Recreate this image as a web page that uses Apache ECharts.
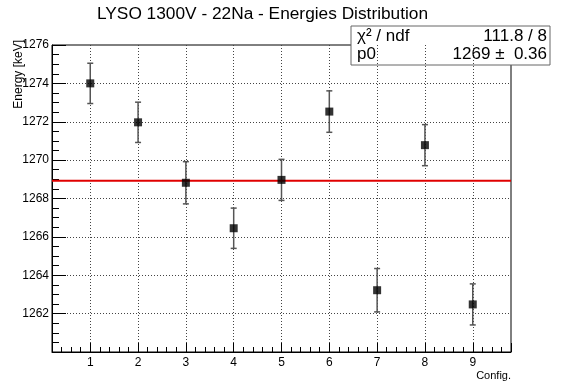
<!DOCTYPE html>
<html><head><meta charset="utf-8">
<script src="https://cdn.jsdelivr.net/npm/echarts@6/dist/echarts.min.js"></script>
<style>html,body{margin:0;padding:0;background:#fff}#c{width:561px;height:383px}</style>
</head><body><div id="c"></div>
<script>
// ---- data ----
const configs = [1, 2, 3, 4, 5, 6, 7, 8, 9];
const energies = [1274.0, 1271.97, 1268.82, 1266.45, 1268.97, 1272.53, 1263.22, 1270.78, 1262.48];
const errors = [1.05, 1.05, 1.1, 1.05, 1.07, 1.08, 1.13, 1.07, 1.07];
const fitP0 = 1268.92;
const xRange = [0.2, 9.8];
const yRange = [1260, 1276];
const statsLabels = ['\u03c7\u00b2 / ndf', 'p0'];
const statsValues = ['111.8 / 8', '1269 \u00b1  0.36'];
const titleText = 'LYSO 1300V - 22Na - Energies Distribution';

const points = configs.map((c, i) => [c, energies[i], errors[i]]);
const fitLine = xRange.map(x => [x, fitP0]);

const FONT = '"Liberation Sans", Arial, sans-serif';
const chart = echarts.init(document.getElementById('c'), null, {renderer: 'canvas'});
const GT = 45, GB = 31, GL = 52, GR = 50;

chart.setOption({
  animation: false,
  backgroundColor: '#fff',
  title: {
    text: titleText, left: 92, top: 1,
    textStyle: {fontFamily: FONT, fontSize: 17.3, fontWeight: 'normal', color: '#000'}
  },
  grid: {left: GL, right: GR, top: GT, bottom: GB, containLabel: false, outerBoundsMode: 'none',
    show: true, borderColor: '#000', borderWidth: 1, backgroundColor: 'transparent'},
  xAxis: [{
    type: 'value', min: xRange[0], max: xRange[1], minInterval: 1, maxInterval: 1,
    name: 'Config.', nameLocation: 'end', nameGap: 0, nameMoveOverlap: false,
    nameTextStyle: {fontFamily: FONT, fontSize: 11, color: '#000', align: 'right', verticalAlign: 'top', padding: [18, 0, 0, 0]},
    axisLine: {show: true, lineStyle: {color: '#000', width: 1}},
    axisTick: {show: true, inside: true, length: 9, lineStyle: {color: '#000'}},
    axisLabel: {fontFamily: FONT, fontSize: 12, color: '#000', margin: 5,
      formatter: v => (Math.abs(v - Math.round(v)) < 1e-6 && v >= 1 && v <= 9) ? String(Math.round(v)) : ''},
    splitLine: {show: true, showMinLine: false, showMaxLine: false, lineStyle: {type: [1, 2], color: '#444', width: 1}}
  }, {
    type: 'value', min: xRange[0], max: xRange[1], interval: 0.2, position: 'bottom', offset: 0,
    axisLine: {show: false},
    axisTick: {show: true, inside: true, length: 5, lineStyle: {color: '#000'}},
    axisLabel: {show: false}, splitLine: {show: false}
  }],
  yAxis: {
    type: 'value', min: yRange[0], max: yRange[1], interval: 2,
    name: 'Energy [keV]', nameLocation: 'end', nameRotate: 90, nameGap: 5, nameMoveOverlap: false,
    nameTextStyle: {fontFamily: FONT, fontSize: 12, color: '#000', align: 'right', verticalAlign: 'bottom', padding: [0, 0, 27, 0]},
    axisLine: {show: true, lineStyle: {color: '#000', width: 1}},
    axisTick: {show: true, inside: true, length: 14, lineStyle: {color: '#000'}},
    minorTick: {show: true, splitNumber: 4, length: 7, lineStyle: {color: '#000'}},
    axisLabel: {fontFamily: FONT, fontSize: 12, color: '#000', margin: 3, showMinLabel: false,
      formatter: v => String(v)},
    splitLine: {show: true, showMinLine: false, showMaxLine: false, lineStyle: {type: [1, 2], color: '#444', width: 1}}
  },
  series: [{
    type: 'custom', xAxisIndex: 0, z: 3,
    data: points,
    renderItem: (params, api) => {
      const x = api.value(0), y = api.value(1), e = api.value(2);
      const t = api.coord([x, y + e]), b = api.coord([x, y - e]);
      const st = {stroke: '#555', lineWidth: 1.5};
      return {type: 'group', children: [
        {type: 'line', shape: {x1: t[0], y1: t[1], x2: b[0], y2: b[1]}, style: st},
        {type: 'line', shape: {x1: t[0] - 3, y1: t[1], x2: t[0] + 3, y2: t[1]}, style: st},
        {type: 'line', shape: {x1: b[0] - 3, y1: b[1], x2: b[0] + 3, y2: b[1]}, style: st}
      ]};
    }
  }, {
    type: 'line', xAxisIndex: 0, z: 4, data: fitLine, showSymbol: false, silent: true,
    lineStyle: {color: '#e00000', width: 2}
  }, {
    type: 'scatter', xAxisIndex: 0, z: 5, data: points, symbol: 'rect', symbolSize: 8,
    itemStyle: {color: '#000'}
  }],
  graphic: [{
    type: 'group', z: 100,
    children: [
      {type: 'rect', shape: {x: 351, y: 26, width: 199, height: 39}, style: {fill: '#fff', stroke: '#666', lineWidth: 1}},
      {type: 'text', x: 357, y: 36, style: {text: statsLabels[0], font: '17px ' + FONT, fill: '#000', textVerticalAlign: 'middle'}},
      {type: 'text', x: 547, y: 36, style: {text: statsValues[0], font: '17px ' + FONT, fill: '#000', textAlign: 'right', textVerticalAlign: 'middle'}},
      {type: 'text', x: 357, y: 54, style: {text: statsLabels[1], font: '17px ' + FONT, fill: '#000', textVerticalAlign: 'middle'}},
      {type: 'text', x: 547, y: 54, style: {text: statsValues[1], font: '17px ' + FONT, fill: '#000', textAlign: 'right', textVerticalAlign: 'middle'}}
    ]
  }]
});
</script>
</body></html>
